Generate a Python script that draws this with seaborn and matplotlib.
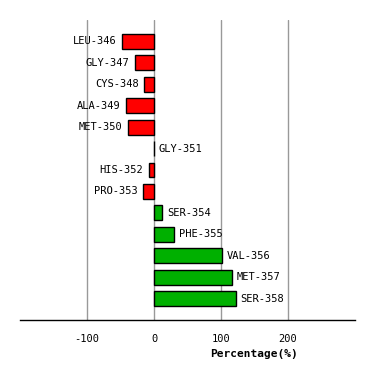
import matplotlib
matplotlib.use("Agg")
import matplotlib.pyplot as plt
import seaborn as sns
import pandas as pd

residues = ["LEU-346", "GLY-347", "CYS-348", "ALA-349", "MET-350", "GLY-351",
            "HIS-352", "PRO-353", "SER-354", "PHE-355", "VAL-356", "MET-357", "SER-358"]
values = [-48, -29, -15, -42, -39, 0, -8, -16.5, 12.5, 30, 102, 116, 122]
xticks = [-100, 0, 100, 200]

df = pd.DataFrame({"residue": residues, "value": values})
df["sign"] = ["neg" if v < 0 else "pos" for v in values]

sns.set_style("white")
plt.rcParams["font.family"] = ["DejaVu Sans Mono"]
plt.rcParams["text.color"] = "black"
plt.rcParams["xtick.color"] = "black"
plt.rcParams["axes.labelcolor"] = "black"

fig = plt.figure(figsize=(3.74, 3.80), dpi=100)
ax = fig.add_axes([20.3 / 374, 1 - 320 / 380, 334.4 / 374, 300 / 380])

sns.barplot(data=df, x="value", y="residue", hue="sign", orient="h",
            palette={"neg": "#FF0000", "pos": "#00B000"}, dodge=False,
            saturation=1, edgecolor="black", linewidth=1, width=0.7,
            legend=False, ax=ax, zorder=3)

ax.set_xlim(-200, 300)
ax.set_ylim(13.0, -1.0)
ax.set_xticks(xticks)
ax.set_xticklabels([str(t) for t in xticks], fontsize=7.5)
ax.tick_params(axis="x", length=0, pad=10)
ax.set_yticks([])
ax.set_ylabel("")
for t in xticks:
    ax.axvline(t, color="#999999", linewidth=1, zorder=1)

for s in ["top", "right", "left"]:
    ax.spines[s].set_visible(False)
ax.spines["bottom"].set_color("black")
ax.spines["bottom"].set_linewidth(1)

for i, (r, v) in enumerate(zip(residues, values)):
    if v < 0:
        ax.text(v - 8, i, r, ha="right", va="center", fontsize=7.5)
    else:
        ax.text(v + 7, i, r, ha="left", va="center", fontsize=7.5)

ax.set_xlabel("Percentage(%)", fontsize=8, fontweight="bold", labelpad=4)
ax.xaxis.set_label_coords(0.70, -0.095)

fig.savefig("out.png", dpi=100)
